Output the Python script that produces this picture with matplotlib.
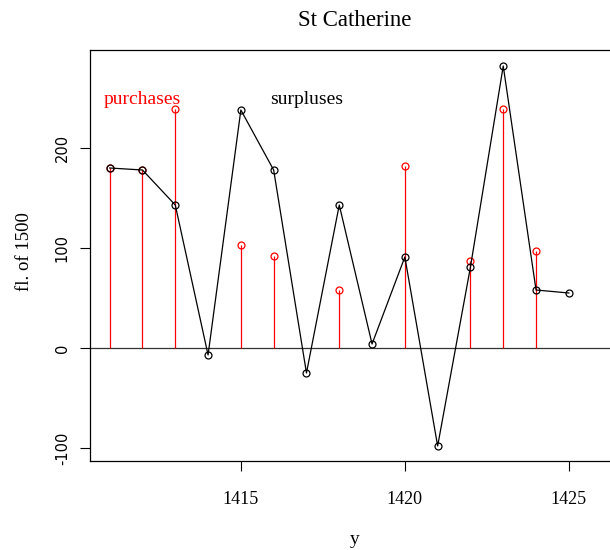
import matplotlib.pyplot as plt

# surpluses per year (black line)
years = [1411, 1412, 1413, 1414, 1415, 1416, 1417, 1418, 1419, 1420, 1421, 1422, 1423, 1424, 1425]
surpluses = [180, 178, 143, -7, 238, 178, -25, 143, 4, 91, -98, 81, 282, 58, 55]

# purchases (red stems)
p_years = [1411, 1412, 1413, 1415, 1416, 1418, 1420, 1422, 1423, 1424]
purchases = [180, 178, 239, 103, 92, 58, 182, 87, 239, 97]

plt.rcParams["font.family"] = ["Liberation Serif", "DejaVu Serif"]
plt.rcParams["axes.unicode_minus"] = False

fig = plt.figure(figsize=(6.1, 5.5), dpi=100)
ax = fig.add_axes([90 / 610, 1 - 461 / 550, 530 / 610, 411 / 550])

ax.axhline(0, color="#333333", lw=0.9, zorder=1)
ax.vlines(p_years, 0, purchases, color="red", lw=0.9, zorder=2)
ax.plot(p_years, purchases, "o", mfc="none", mec="red", ms=5, mew=0.9, zorder=3)
ax.plot(years, surpluses, "-o", color="black", mfc="none", ms=5, mew=0.9, lw=0.9, zorder=4)

ax.text(1412, 248, "purchases", color="red", ha="center", va="center", fontsize=14)
ax.text(1417, 248, "surpluses", color="black", ha="center", va="center", fontsize=14)

ax.set_xlim(1410.4, 1426.56)
ax.set_ylim(-113, 298)
ax.set_xticks([1415, 1420, 1425])
ax.set_yticks([-100, 0, 100, 200])
ax.tick_params(axis="x", labelsize=13, length=7.5, width=0.8, pad=14)
ax.tick_params(axis="y", labelsize=10.5, length=7.5, width=0.8, pad=7)
for lab in ax.get_yticklabels():
    lab.set_rotation(90)
    lab.set_va("center")
    lab.set_family("DejaVu Sans")
for s in ax.spines.values():
    s.set_linewidth(0.9)

fig.text(355 / 610, 1 - 20 / 550, "St Catherine", ha="center", va="center", fontsize=16.5)
fig.text(355 / 610, 1 - 540 / 550, "y", ha="center", va="center", fontsize=14)
fig.text(25 / 610, 1 - 252 / 550, "fl. of 1500", ha="center", va="center", rotation=90, fontsize=13.5)

fig.savefig("out.png", dpi=100)
